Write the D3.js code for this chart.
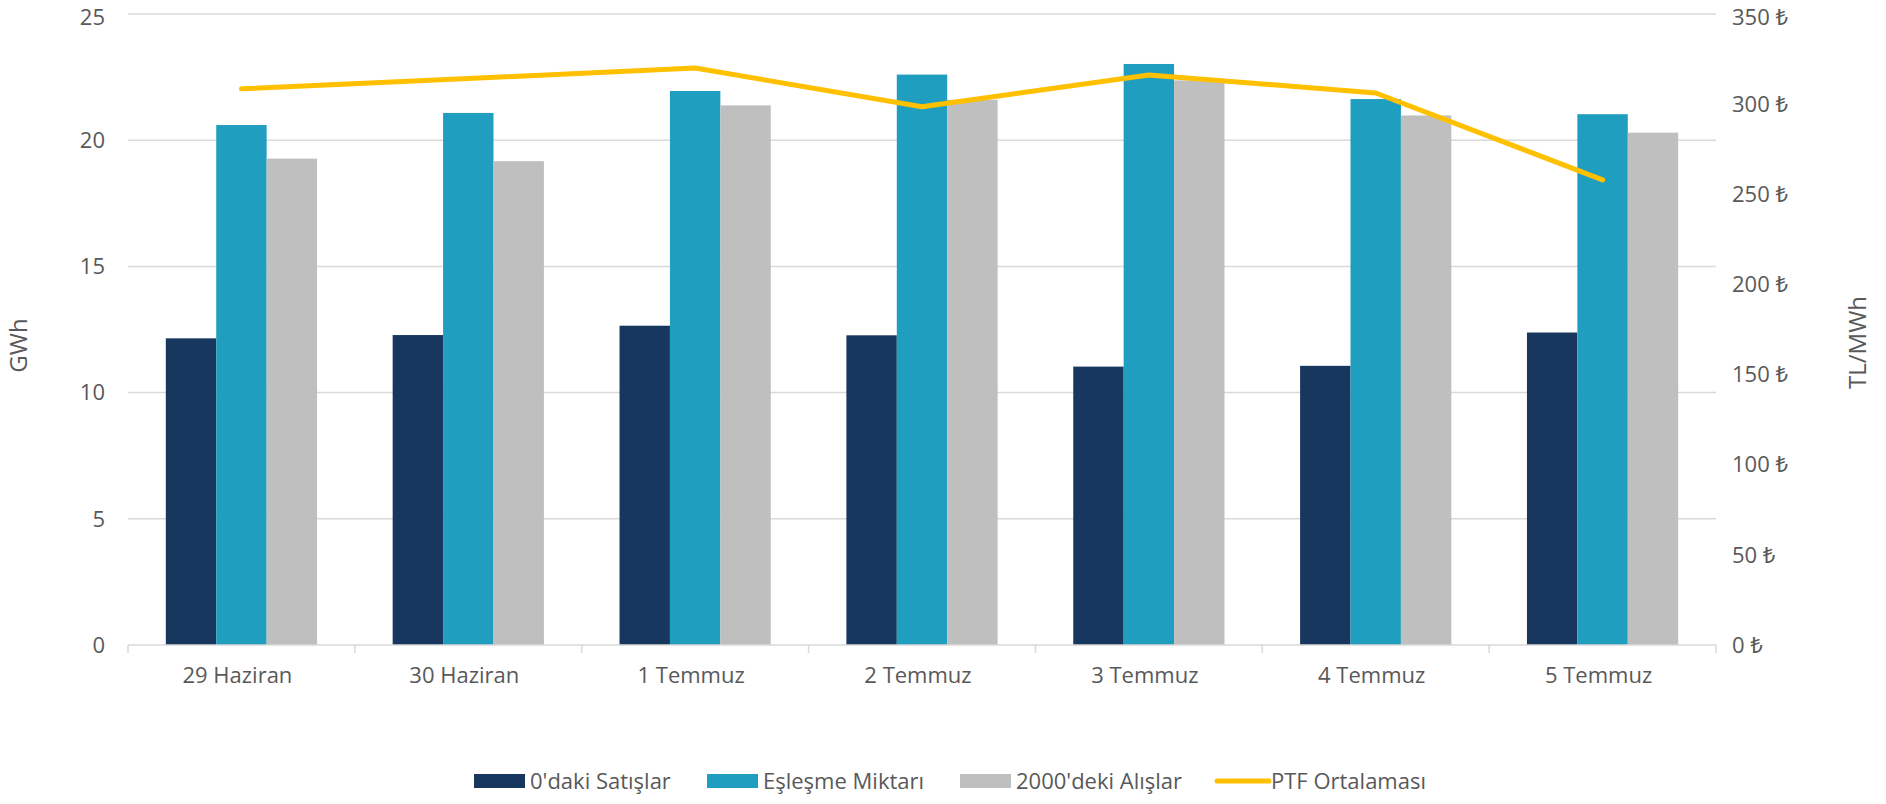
<!DOCTYPE html>
<html>
<head>
<meta charset="utf-8">
<script src="https://cdn.jsdelivr.net/npm/d3@7/dist/d3.min.js"></script>
<style>
  html, body { margin: 0; padding: 0; background: #fff; }
  svg { display: block; }
  text { font-family: "Open Sans", "Noto Sans", "DejaVu Sans", sans-serif; fill: #595959; }
</style>
</head>
<body>
<svg id="chart" width="1886" height="804"></svg>
<script>
const categories = ["29 Haziran", "30 Haziran", "1 Temmuz", "2 Temmuz", "3 Temmuz", "4 Temmuz", "5 Temmuz"];
const sales0 = [12.15, 12.28, 12.65, 12.27, 11.03, 11.06, 12.38];
const matched = [20.6, 21.08, 21.95, 22.6, 23.02, 21.63, 21.03];
const buys2000 = [19.27, 19.17, 21.38, 21.6, 22.37, 20.98, 20.3];
const ptfAvg = [308.5, 314.2, 320, 298.6, 316.2, 306.2, 258];
const leftTicks = [0, 5, 10, 15, 20, 25];
const rightTicks = [0, 50, 100, 150, 200, 250, 300, 350];
const seriesNames = ["0'daki Satışlar", "Eşleşme Miktarı", "2000'deki Alışlar", "PTF Ortalaması"];
const colors = ["#17375E", "#209EC0", "#BFBFBF", "#FFC000"];

(function () {
const svg = d3.select("#chart");
const pL = 128, pR = 1716, pT = 14, pB = 645;

const x = d3.scaleBand().domain(categories).range([pL, pR]).paddingInner(0).paddingOuter(0);
const bw = x.bandwidth();
const gap = bw * 0.75 / 4.5;
const x1 = d3.scaleBand().domain([0, 1, 2]).range([gap, bw - gap]);
const yL = d3.scaleLinear().domain([0, 25]).range([pB, pT]);
const yR = d3.scaleLinear().domain([0, 350]).range([pB, pT]);

// gridlines
svg.append("g").selectAll("line").data(leftTicks.filter(d => d > 0)).join("line")
  .attr("x1", pL).attr("x2", pR)
  .attr("y1", d => yL(d)).attr("y2", d => yL(d))
  .attr("stroke", "#D9D9D9").attr("stroke-width", 1.5);

// bars
const barSeries = [sales0, matched, buys2000];
barSeries.forEach((vals, si) => {
  svg.append("g").selectAll("rect").data(vals).join("rect")
    .attr("x", (d, i) => x(categories[i]) + x1(si))
    .attr("width", x1.bandwidth())
    .attr("y", d => yL(d))
    .attr("height", d => yL(0) - yL(d))
    .attr("fill", colors[si]);
});

// x axis line and ticks
const gx = svg.append("g").attr("transform", `translate(0,${pB})`);
gx.append("line").attr("x1", pL).attr("x2", pR).attr("y1", 0).attr("y2", 0)
  .attr("stroke", "#D9D9D9").attr("stroke-width", 1.5);
const bounds = categories.map(c => x(c)).concat([pR]);
gx.selectAll("line.tick").data(bounds).join("line").attr("class", "tick")
  .attr("x1", d => d).attr("x2", d => d).attr("y1", 0).attr("y2", 8)
  .attr("stroke", "#D9D9D9").attr("stroke-width", 1.5);
gx.selectAll("text").data(categories).join("text")
  .attr("x", d => x(d) + bw / 2 - 4).attr("y", 38)
  .attr("text-anchor", "middle").attr("font-size", 22).text(d => d);

// left axis labels
svg.append("g").selectAll("text").data(leftTicks).join("text")
  .attr("x", 105).attr("y", d => Math.max(yL(d), 17)).attr("dy", "0.35em")
  .attr("text-anchor", "end").attr("font-size", 22).text(d => d);

// right axis labels
svg.append("g").selectAll("text").data(rightTicks).join("text")
  .attr("x", 1732).attr("y", d => Math.max(yR(d), 17)).attr("dy", "0.35em")
  .attr("text-anchor", "start").attr("font-size", 22).text(d => d + " ₺");

// axis titles
svg.append("text").attr("transform", `translate(27,${(pT + pB) / 2 + 16}) rotate(-90)`)
  .attr("text-anchor", "middle").attr("font-size", 24).text("GWh");
svg.append("text").attr("transform", `translate(1866,${(pT + pB) / 2 + 13}) rotate(-90)`)
  .attr("text-anchor", "middle").attr("font-size", 24).text("TL/MWh");

// line
const line = d3.line().x((d, i) => x(categories[i]) + bw / 2).y(d => yR(d));
svg.append("path").datum(ptfAvg).attr("d", line)
  .attr("fill", "none").attr("stroke", colors[3]).attr("stroke-width", 5)
  .attr("stroke-linejoin", "round").attr("stroke-linecap", "round");

// legend
const legendX = [474, 707, 960, 1215];
const ly = 781;
const lg = svg.append("g");
seriesNames.forEach((name, i) => {
  if (i < 3) {
    lg.append("rect").attr("x", legendX[i]).attr("y", ly - 7).attr("width", 51).attr("height", 14).attr("fill", colors[i]);
  } else {
    lg.append("line").attr("x1", legendX[i] + 2).attr("x2", legendX[i] + 54).attr("y1", ly).attr("y2", ly)
      .attr("stroke", colors[i]).attr("stroke-width", 5).attr("stroke-linecap", "round");
  }
  lg.append("text").attr("x", legendX[i] + 56).attr("y", ly).attr("dy", "0.35em")
    .attr("font-size", 22).text(name);
});
})();
</script>
</body>
</html>
